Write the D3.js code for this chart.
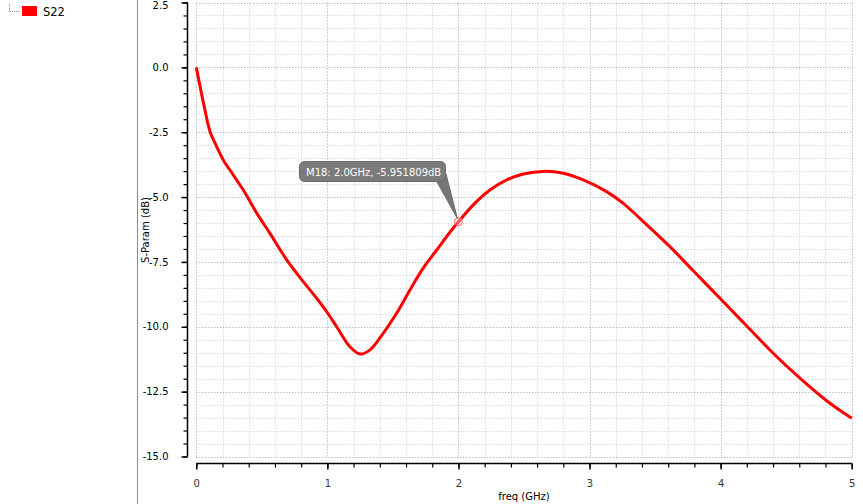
<!DOCTYPE html>
<html><head><meta charset="utf-8">
<script src="https://cdn.jsdelivr.net/npm/d3@7"></script>
<style>html,body{margin:0;padding:0;background:#fff;}svg{display:block;font-family:"DejaVu Sans",sans-serif;}</style>
</head><body>
<svg id="c" width="863" height="504"></svg>
<script>
const freq = [0, 0.066, 0.105, 0.156, 0.206, 0.282, 0.359, 0.461, 0.562, 0.690, 0.816, 0.918, 0.995, 1.071, 1.172, 1.249, 1.325, 1.426, 1.528, 1.630, 1.731, 1.834, 1.948, 2.0, 2.113, 2.240, 2.368, 2.495, 2.647, 2.799, 2.952, 3.130, 3.257, 3.384, 3.613, 3.791, 3.995, 4.198, 4.401, 4.605, 4.809, 5.0];
const s22 = [0, -1.64, -2.48, -3.06, -3.57, -4.15, -4.73, -5.62, -6.40, -7.42, -8.26, -8.90, -9.42, -10.0, -10.77, -11.05, -10.89, -10.25, -9.48, -8.58, -7.74, -7.04, -6.27, -5.951809, -5.30, -4.73, -4.34, -4.11, -4.01, -4.08, -4.34, -4.79, -5.24, -5.82, -6.91, -7.84, -8.90, -9.96, -11.02, -11.98, -12.85, -13.53];
const xTicks = [0, 1, 2, 3, 4, 5];
const yTicks = [2.5, 0.0, -2.5, -5.0, -7.5, -10.0, -12.5, -15.0];
const seriesName = "S22";
const marker = {name: "M18", f: 2.0, v: -5.951809};

const svg = d3.select("#c");
const x = d3.scaleLinear().domain([0, 5]).range([196.3, 851.7]);
const y = d3.scaleLinear().domain([-15, 2.5]).range([456.5, 2.5]);
const xMinor = d3.range(0, 5.0001, 0.2);
const yMinor = d3.range(-15, 2.5001, 0.5);

// left panel divider
svg.append("line").attr("x1", 137.5).attr("x2", 137.5).attr("y1", 0).attr("y2", 504).attr("stroke", "#8c8c8c").attr("stroke-width", 1);

// legend
const lg = svg.append("g");
lg.append("path").attr("d", "M9.5,4 V11.5 H20").attr("fill", "none").attr("stroke", "#888").attr("stroke-dasharray", "1,1");
lg.append("rect").attr("x", 22).attr("y", 6).attr("width", 15).attr("height", 10).attr("fill", "#ff0000");
lg.append("text").attr("x", 43).attr("y", 16).attr("font-size", 11.5).attr("fill", "#000").text(seriesName);

// grid
const grid = svg.append("g");
xMinor.forEach(f => {
  const major = Math.abs(f - Math.round(f)) < 1e-6;
  grid.append("line").attr("x1", Math.round(x(f)) + 0.5).attr("x2", Math.round(x(f)) + 0.5)
    .attr("y1", y(2.5)).attr("y2", y(-15))
    .attr("stroke", major ? "#a0a0a0" : "#c8c8c8").attr("stroke-dasharray", "1,2");
});
yMinor.forEach(v => {
  const major = Math.abs(v / 2.5 - Math.round(v / 2.5)) < 1e-6;
  grid.append("line").attr("y1", Math.round(y(v)) + 0.5).attr("y2", Math.round(y(v)) + 0.5)
    .attr("x1", x(0)).attr("x2", x(5))
    .attr("stroke", major ? "#a0a0a0" : "#c8c8c8").attr("stroke-dasharray", "1,2");
});

const fmtY = d => d3.format(".1f")(d).replace("−", "-");

// y axis
const yAxisX = 187.5;
const yMinorAxis = d3.axisLeft(y).tickValues(yMinor).tickSize(4).tickFormat("");
svg.append("g").attr("transform", `translate(${yAxisX},0)`).call(yMinorAxis)
  .call(g => g.select(".domain").remove())
  .call(g => g.selectAll("line").attr("stroke", "#000").attr("stroke-width", 1.2));
const yAxis = d3.axisLeft(y).tickValues(yTicks).tickSize(6).tickPadding(13).tickFormat(fmtY);
svg.append("g").attr("transform", `translate(${yAxisX},0)`).call(yAxis)
  .call(g => g.select(".domain").attr("stroke", "#000").attr("stroke-width", 1.5).attr("d", `M0,${y(2.5)}V${y(-15)}`))
  .call(g => g.selectAll("line").attr("stroke", "#000").attr("stroke-width", 1.5))
  .call(g => g.selectAll("text").attr("font-size", 10).attr("fill", "#000").attr("font-family", "DejaVu Sans"))
  .call(g => g.selectAll(".tick").filter(d => d === 2.5).select("text").attr("dy", "0.55em"));

// x axis
const xAxisY = 463.5;
const xMinorAxis = d3.axisBottom(x).tickValues(xMinor).tickSize(4).tickFormat("");
svg.append("g").attr("transform", `translate(0,${xAxisY})`).call(xMinorAxis)
  .call(g => g.select(".domain").remove())
  .call(g => g.selectAll("line").attr("stroke", "#000").attr("stroke-width", 1.2));
const xAxis = d3.axisBottom(x).tickValues(xTicks).tickSize(6).tickPadding(10).tickFormat(d3.format("d"));
svg.append("g").attr("transform", `translate(0,${xAxisY})`).call(xAxis)
  .call(g => g.select(".domain").attr("stroke", "#000").attr("stroke-width", 1.5).attr("d", `M${x(0)},0H${x(5)}`))
  .call(g => g.selectAll("line").attr("stroke", "#000").attr("stroke-width", 1.5))
  .call(g => g.selectAll("text").attr("font-size", 10).attr("fill", "#333").attr("font-family", "DejaVu Sans"));

// axis titles
svg.append("text").attr("x", x(2.5)).attr("y", 500).attr("text-anchor", "middle")
  .attr("font-size", 10).attr("fill", "#000").text("freq (GHz)");
svg.append("text").attr("transform", `translate(149,${230}) rotate(-90)`).attr("text-anchor", "middle")
  .attr("font-size", 10).attr("fill", "#000").text("S-Param (dB)");

// curve
const data = freq.map((f, i) => [f, s22[i]]);
svg.append("path").datum(data)
  .attr("fill", "none").attr("stroke", "#ff0000").attr("stroke-width", 3).attr("stroke-linejoin", "round")
  .attr("d", d3.line().x(d => x(d[0])).y(d => y(d[1])).curve(d3.curveCatmullRom.alpha(0.5)));

// marker callout
const mx = x(marker.f), my = y(marker.v);
const cg = svg.append("g");
cg.append("path").attr("d", `M436,180 L446,174 L${mx - 1},${my - 3} Z`).attr("fill", "#777").attr("stroke", "#6a6a6a");
cg.append("rect").attr("x", 299.5).attr("y", 161.5).attr("width", 146).attr("height", 20).attr("rx", 5)
  .attr("fill", "#7b7b7b").attr("stroke", "#6a6a6a");
cg.append("text").attr("x", 306).attr("y", 175.5).attr("font-size", 10).attr("fill", "#fff")
  .text(`${marker.name}: ${marker.f.toFixed(1)}GHz, ${marker.v.toFixed(6)}dB`);
cg.append("circle").attr("cx", mx).attr("cy", my).attr("r", 4).attr("fill", "rgba(255,200,200,0.4)").attr("stroke", "#ff6b6b").attr("stroke-width", 1);
</script>
</body></html>
